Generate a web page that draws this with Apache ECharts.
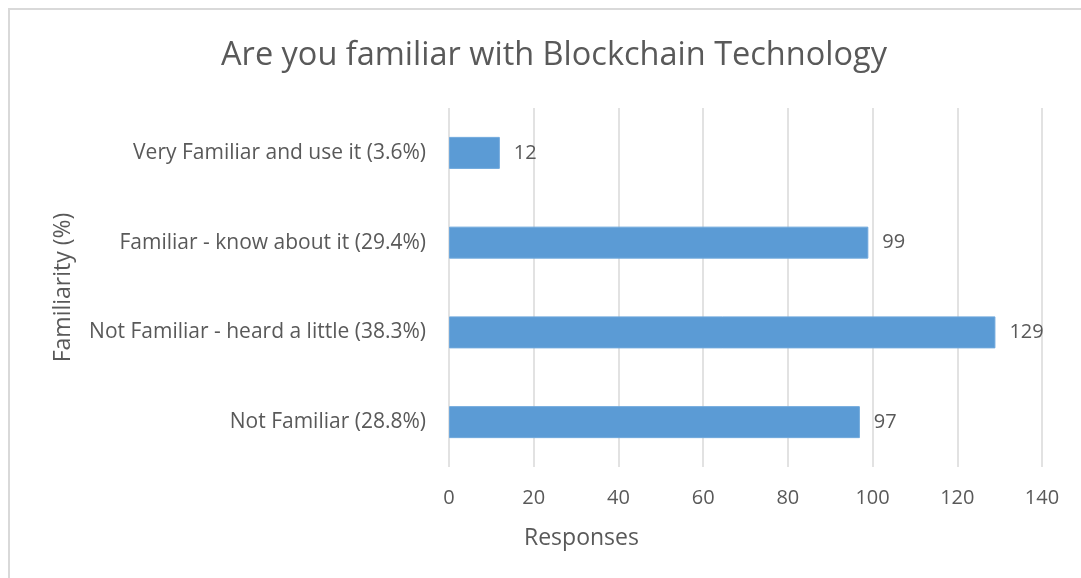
<!DOCTYPE html>
<html>
<head>
<meta charset="utf-8">
<script src="https://cdn.jsdelivr.net/npm/echarts@6/dist/echarts.min.js"></script>
<style>
  html, body { margin: 0; padding: 0; background: #fff; }
  #chart { width: 1081px; height: 578px; }
</style>
</head>
<body>
<div id="chart"></div>
<script>
// Survey answers, listed top to bottom
const categories = [
  'Very Familiar and use it (3.6%)',
  'Familiar - know about it (29.4%)',
  'Not Familiar - heard a little (38.3%)',
  'Not Familiar (28.8%)'
];
const responses = [12, 99, 129, 97];
const xTicks = [0, 20, 40, 60, 80, 100, 120, 140];

const FONT = '"Open Sans", "Noto Sans", sans-serif';
const TEXT = '#595959';

const chart = echarts.init(document.getElementById('chart'));
chart.setOption({
  backgroundColor: '#ffffff',
  animation: false,
  title: {
    text: 'Are you familiar with Blockchain Technology',
    left: 549, top: 34, textAlign: 'center',
    textStyle: { fontFamily: FONT, fontSize: 32.5, fontWeight: 'normal', color: TEXT }
  },
  graphic: [
    {
      type: 'rect', silent: true, z: -1,
      shape: { x: 9, y: 9, width: 1100, height: 600 },
      style: { fill: 'none', stroke: '#d9d9d9', lineWidth: 2 }
    },
    {
      type: 'text', left: 524, top: 527,
      style: { text: 'Responses', font: '23px ' + FONT, fill: TEXT }
    }
  ],
  grid: { left: 449, right: 39, top: 108, bottom: 111 },
  xAxis: {
    type: 'value',
    min: xTicks[0], max: xTicks[xTicks.length - 1], interval: 20,
    axisLine: { show: false },
    axisTick: { show: false },
    splitLine: { show: true, lineStyle: { color: '#d9d9d9', width: 1.5 } },
    axisLabel: { margin: 21, fontFamily: FONT, fontSize: 20, color: TEXT }
  },
  yAxis: {
    type: 'category',
    data: categories,
    inverse: true,
    name: 'Familiarity (%)',
    nameLocation: 'middle',
    nameGap: 374,
    nameRotate: 90,
    nameTextStyle: { fontFamily: FONT, fontSize: 23, color: TEXT },
    axisLine: { show: false },
    axisTick: { show: false },
    axisLabel: { margin: 23, fontFamily: FONT, fontSize: 21, color: TEXT }
  },
  series: [{
    type: 'bar',
    data: responses,
    barWidth: 32,
    itemStyle: { color: '#5b9bd5', borderColor: '#6fa8dc', borderWidth: 1 },
    label: {
      show: true, position: 'right', distance: 14,
      fontFamily: FONT, fontSize: 20, color: TEXT
    }
  }]
});
</script>
</body>
</html>
